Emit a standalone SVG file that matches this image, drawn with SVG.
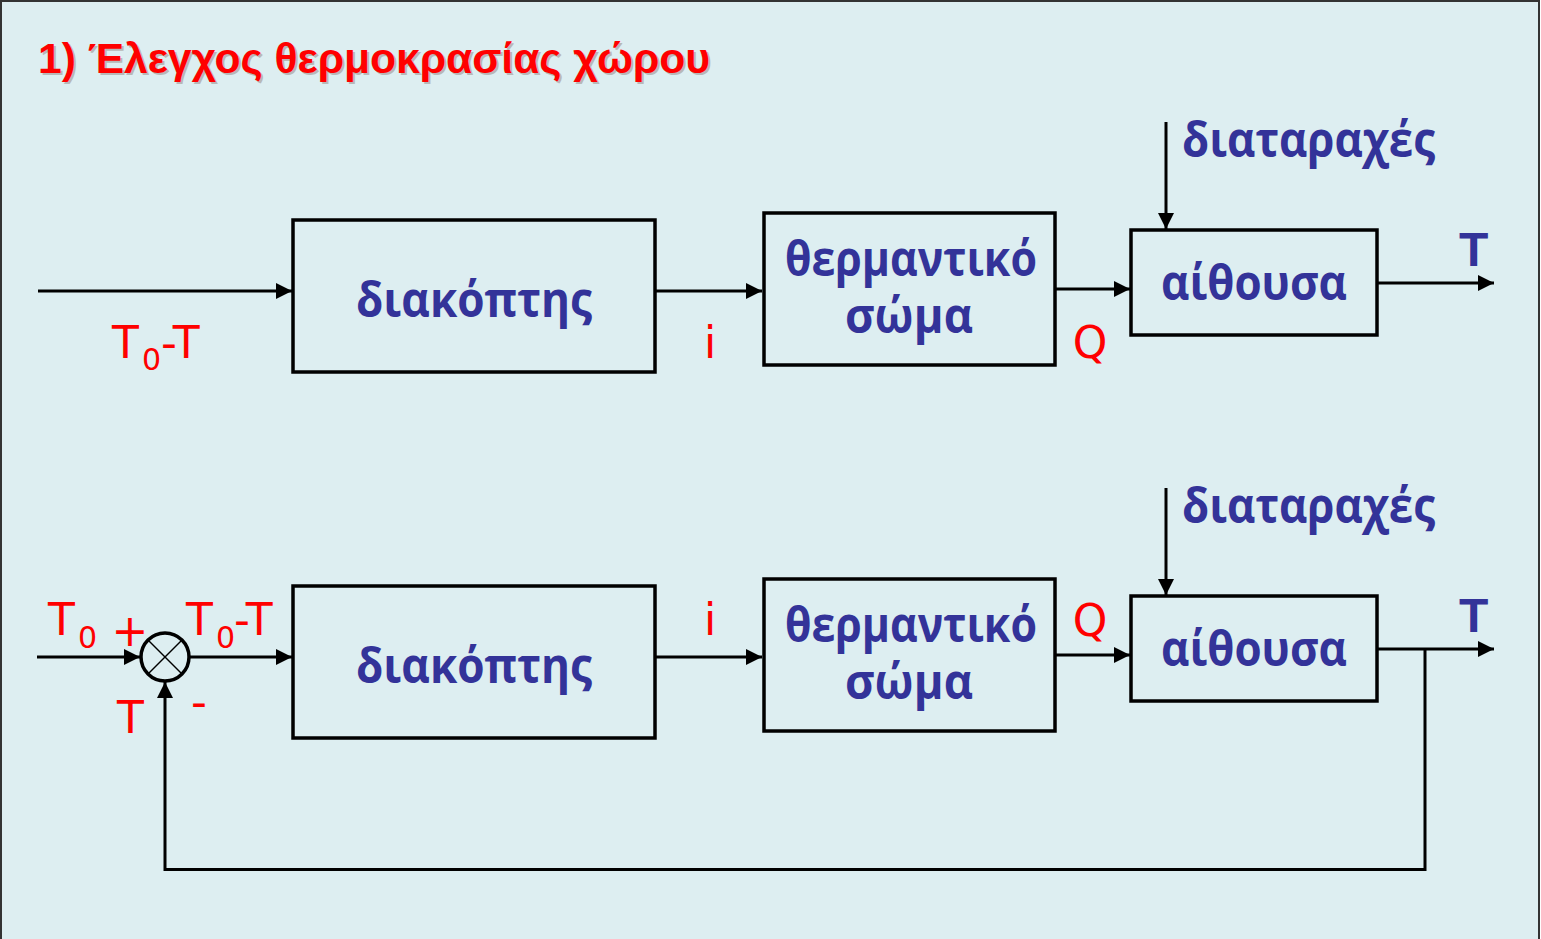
<svg xmlns="http://www.w3.org/2000/svg" width="1541" height="939" viewBox="0 0 1541 939">
<defs>
<marker id="arr" markerUnits="userSpaceOnUse" markerWidth="17" markerHeight="16" refX="16" refY="8" orient="auto">
<path d="M0,0 L16,8 L0,16 z" fill="#000"/>
</marker>
</defs>
<style>
.box{fill:none;stroke:#000;stroke-width:3.5}
.ln{fill:none;stroke:#000;stroke-width:3}
.blue{font-family:"Open Sans","DejaVu Sans",sans-serif;font-weight:bold;font-size:48px;fill:#333399}
.bT{font-family:"Liberation Sans",Arial,sans-serif;font-weight:bold;font-size:48px;fill:#333399}
.red{font-family:"DejaVu Sans",Verdana,sans-serif;font-size:44px;fill:#ff0000}
.sub{font-size:30px}
.title{font-family:"Liberation Sans",Arial,sans-serif;font-weight:bold;font-size:42px}
</style>
<rect x="1" y="1" width="1538" height="960" fill="#ddeef1" stroke="#333" stroke-width="2"/>
<g id="title">
<text class="title" x="40" y="75" fill="#b8b8b8" textLength="672" lengthAdjust="spacingAndGlyphs">1) Έλεγχος θερμοκρασίας χώρου</text>
<text class="title" x="38" y="73" fill="#ff0000" textLength="672" lengthAdjust="spacingAndGlyphs">1) Έλεγχος θερμοκρασίας χώρου</text>
</g>
<g id="connectors">
<line class="ln" x1="38" y1="291" x2="292" y2="291" marker-end="url(#arr)"/>
<line class="ln" x1="655" y1="291" x2="762" y2="291" marker-end="url(#arr)"/>
<line class="ln" x1="1055" y1="289" x2="1130" y2="289" marker-end="url(#arr)"/>
<line class="ln" x1="1377" y1="283" x2="1494" y2="283" marker-end="url(#arr)"/>
<line class="ln" x1="1166" y1="122" x2="1166" y2="229" marker-end="url(#arr)"/>
<line class="ln" x1="37" y1="657" x2="140" y2="657" marker-end="url(#arr)"/>
<line class="ln" x1="189" y1="657" x2="292" y2="657" marker-end="url(#arr)"/>
<line class="ln" x1="655" y1="657" x2="762" y2="657" marker-end="url(#arr)"/>
<line class="ln" x1="1055" y1="655" x2="1130" y2="655" marker-end="url(#arr)"/>
<line class="ln" x1="1377" y1="649" x2="1494" y2="649" marker-end="url(#arr)"/>
<line class="ln" x1="1166" y1="488" x2="1166" y2="595" marker-end="url(#arr)"/>
<polyline class="ln" points="1425,649 1425,869.5 165,869.5 165,682" stroke-width="3.5" marker-end="url(#arr)"/>
</g>
<g id="switch1">
<rect class="box" x="293" y="220" width="362" height="152"/>
<text class="blue" x="474" y="317" text-anchor="middle" textLength="236" lengthAdjust="spacingAndGlyphs">διακόπτης</text>
</g>
<g id="heater1">
<rect class="box" x="764" y="213" width="291" height="152"/>
<text class="blue" text-anchor="middle"><tspan x="911" y="276" textLength="252" lengthAdjust="spacingAndGlyphs">θερμαντικό</tspan><tspan x="909" y="333" textLength="128" lengthAdjust="spacingAndGlyphs">σώμα</tspan></text>
</g>
<g id="room1">
<rect class="box" x="1131" y="230" width="246" height="105"/>
<text class="blue" x="1254" y="300" text-anchor="middle" textLength="186" lengthAdjust="spacingAndGlyphs">αίθουσα</text>
</g>
<g id="labels1">
<text class="blue" x="1182" y="157" textLength="253" lengthAdjust="spacingAndGlyphs">διαταραχές</text>
<text class="bT" x="1459" y="266">T</text>
<text class="red" x="112" y="358">T</text>
<text class="red sub" x="142" y="370">0</text>
<text class="red" x="161" y="358">-T</text>
<text class="red" x="710" y="358" text-anchor="middle">i</text>
<text class="red" x="1090" y="358" text-anchor="middle">Q</text>
</g>
<g id="sum">
<circle cx="165" cy="657" r="24" fill="none" stroke="#000" stroke-width="3.5"/>
<line x1="148" y1="640" x2="182" y2="674" stroke="#000" stroke-width="1.5"/>
<line x1="182" y1="640" x2="148" y2="674" stroke="#000" stroke-width="1.5"/>
</g>
<g id="switch2">
<rect class="box" x="293" y="586" width="362" height="152"/>
<text class="blue" x="474" y="683" text-anchor="middle" textLength="236" lengthAdjust="spacingAndGlyphs">διακόπτης</text>
</g>
<g id="heater2">
<rect class="box" x="764" y="579" width="291" height="152"/>
<text class="blue" text-anchor="middle"><tspan x="911" y="642" textLength="252" lengthAdjust="spacingAndGlyphs">θερμαντικό</tspan><tspan x="909" y="699" textLength="128" lengthAdjust="spacingAndGlyphs">σώμα</tspan></text>
</g>
<g id="room2">
<rect class="box" x="1131" y="596" width="246" height="105"/>
<text class="blue" x="1254" y="666" text-anchor="middle" textLength="186" lengthAdjust="spacingAndGlyphs">αίθουσα</text>
</g>
<g id="labels2">
<text class="blue" x="1182" y="523" textLength="253" lengthAdjust="spacingAndGlyphs">διαταραχές</text>
<text class="bT" x="1459" y="632">T</text>
<text class="red" x="48" y="635">T</text>
<text class="red sub" x="78" y="648">0</text>
<text class="red" x="130" y="646" text-anchor="middle" font-size="36">+</text>
<text class="red" x="186" y="635">T</text>
<text class="red sub" x="216" y="648">0</text>
<text class="red" x="234" y="635">-T</text>
<text class="red" x="117" y="733">T</text>
<text class="red" x="199" y="717" text-anchor="middle" font-size="36">-</text>
<text class="red" x="710" y="635" text-anchor="middle">i</text>
<text class="red" x="1090" y="636" text-anchor="middle">Q</text>
</g>
</svg>
